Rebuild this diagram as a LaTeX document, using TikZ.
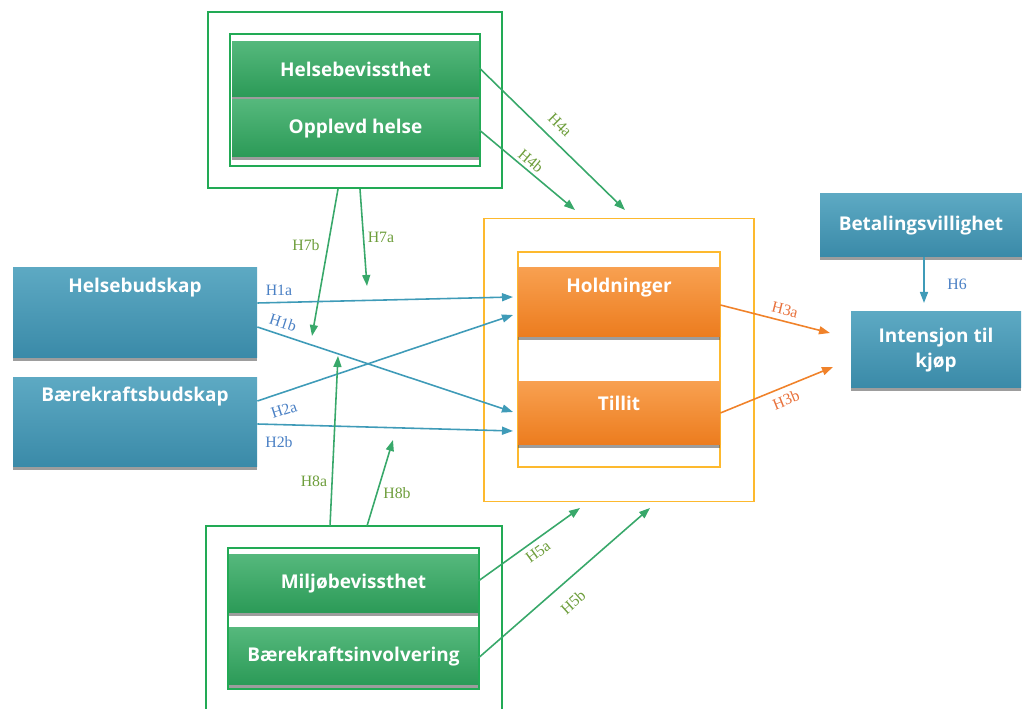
\documentclass[tikz,border=0pt]{standalone}
\usepackage{fontspec}
\setmainfont{Liberation Serif}
\newfontfamily\boxfont{Open Sans}
\usetikzlibrary{arrows.meta,shadows}
\definecolor{gline}{HTML}{22AA55}
\definecolor{gtop}{HTML}{55B87C}
\definecolor{gbot}{HTML}{2B9A57}
\definecolor{btop}{HTML}{5DA9C3}
\definecolor{bbot}{HTML}{3A8AA8}
\definecolor{otop}{HTML}{F8A050}
\definecolor{obot}{HTML}{EC7C1E}
\definecolor{oline}{HTML}{FDB92E}
\definecolor{barrow}{HTML}{3F9BB8}
\definecolor{garrow}{HTML}{38A86A}
\definecolor{oarrow}{HTML}{F0822A}
\definecolor{glab}{HTML}{6E9E3C}
\definecolor{blab}{HTML}{4A80C4}
\definecolor{olab}{HTML}{E8703A}
\newdimen\pxu \pxu=0.02cm
\tikzset{
  sbox/.style={draw=none, inner sep=0pt, drop shadow={shadow xshift=0pt, shadow yshift=-0.07cm, opacity=0.55, fill=black!70}},
  gbox/.style={sbox, top color=gtop, bottom color=gbot},
  bbox/.style={sbox, top color=btop, bottom color=bbot},
  obox/.style={sbox, top color=otop, bottom color=obot},
  btext/.style={text=white, font=\boxfont\bfseries\fontsize{10.8}{14}\selectfont, align=center, inner sep=0pt},
  gframe/.style={draw=gline, line width=1.2pt},
  oframe/.style={draw=oline, line width=1.1pt},
  arr/.style={line width=0.9pt, -{Triangle[length=0.22cm,width=0.16cm]}},
  glabel/.style={text=glab, font=\fontsize{9}{10}\selectfont, inner sep=0pt},
  blabel/.style={text=blab, font=\fontsize{9}{10}\selectfont, inner sep=0pt},
  olabel/.style={text=olab, font=\fontsize{9}{10}\selectfont, inner sep=0pt},
}
\begin{document}
\begin{tikzpicture}[x=0.02cm,y=-0.02cm]
\useasboundingbox (0,0) rectangle (1022,709);
% frames
\node[gframe, minimum width=294\pxu, minimum height=176\pxu, inner sep=0pt] (topouter) at (355,100) {};
\node[gframe, minimum width=250\pxu, minimum height=132\pxu, inner sep=0pt] (topinner) at (355,100) {};
\node[oframe, minimum width=270\pxu, minimum height=283\pxu, inner sep=0pt] (oouter) at (619,360) {};
\node[oframe, minimum width=202\pxu, minimum height=215\pxu, inner sep=0pt] (oinner) at (619,359.5) {};
\draw[gline, line width=1.2pt] (206,712) -- (206,526) coordinate (botouternw) -- (502,526) coordinate (botouterne) -- (502,712);
\node[gframe, minimum width=251\pxu, minimum height=141\pxu, inner sep=0pt] (botinner) at (353.5,618.5) {};
% green boxes
\node[gbox, minimum width=247\pxu, minimum height=55\pxu] (hbev) at (355.5,69.5) {};
\node[btext] (hbevt) at (hbev) {Helsebevissthet};
\node[gbox, minimum width=247\pxu, minimum height=57\pxu] (oh) at (355.5,128.5) {};
\node[btext] (oht) at (oh) {Opplevd helse};
\node[gbox, minimum width=249\pxu, minimum height=58\pxu] (mil) at (353.5,584) {};
\node[btext] (milt) at (mil) {Miljøbevissthet};
\node[gbox, minimum width=249\pxu, minimum height=57\pxu] (bin) at (353.5,656.5) {};
\node[btext] (bint) at (bin) {Bærekraftsinvolvering};
% blue boxes
\node[bbox, minimum width=244\pxu, minimum height=90\pxu] (hbud) at (135,313) {};
\node[btext] (hbudt) at (135,288) {Helsebudskap};
\node[bbox, minimum width=244\pxu, minimum height=89\pxu] (bbud) at (135,422.5) {};
\node[btext] (bbudt) at (135,397) {Bærekraftsbudskap};
\node[bbox, minimum width=202\pxu, minimum height=63\pxu] (bet) at (921,225.5) {};
\node[btext] (bett) at (bet) {Betalingsvillighet};
\node[bbox, minimum width=170\pxu, minimum height=76\pxu] (int) at (936,350) {};
\node[btext] (intt) at (int) {Intensjon til\\kjøp};
% orange boxes
\node[obox, minimum width=202\pxu, minimum height=69\pxu] (hold) at (619,302.5) {};
\node[btext] (holdt) at (619,288) {Holdninger};
\node[obox, minimum width=202\pxu, minimum height=63\pxu] (till) at (619,413.5) {};
\node[btext] (tillt) at (619,403) {Tillit};
% arrow end points
\coordinate (e4a) at (625,210);
\coordinate (e4b) at (575,210);
\coordinate (e7b) at (312,336);
\coordinate (e7a) at (367,286);
\coordinate (e1a) at (513,297);
\coordinate (e1b) at (513,412);
\coordinate (e2a) at (513,315);
\coordinate (e2b) at (513,431);
\coordinate (e8a) at (338,356);
\coordinate (e8b) at (393,440);
\coordinate (e5a) at (580,508);
\coordinate (e5b) at (650,508);
\coordinate (e3a) at (830,333);
\coordinate (e3b) at (833,367);
\coordinate (e6) at (924,303);
% arrows
\draw[arr, garrow] (hbev.east |- 0,68) -- (e4a);
\draw[arr, garrow] (oh.east |- 0,130) -- (e4b);
\draw[arr, garrow] (topouter.south -| 338,0) -- (e7b);
\draw[arr, garrow] (topouter.south -| 360,0) -- (e7a);
\draw[arr, barrow] (hbud.east |- 0,303) -- (e1a);
\draw[arr, barrow] (hbud.east |- 0,327) -- (e1b);
\draw[arr, barrow] (bbud.east |- 0,401) -- (e2a);
\draw[arr, barrow] (bbud.east |- 0,424) -- (e2b);
\draw[arr, garrow] (botouternw -| 330,0) -- (e8a);
\draw[arr, garrow] (botouternw -| 367,0) -- (e8b);
\draw[arr, garrow] (mil.east |- 0,581) -- (e5a);
\draw[arr, garrow] (bin.east |- 0,658) -- (e5b);
\draw[arr, oarrow] (hold.east |- 0,305) -- (e3a);
\draw[arr, oarrow] (till.east |- 0,413) -- (e3b);
\draw[arr, barrow] (bet.south -| 924,0) -- (e6);
% labels
\node[glabel, rotate=-45] (l4a) at (560,125) {H4a};
\node[glabel, rotate=-40] (l4b) at (531,161) {H4b};
\node[glabel] (l7b) at (306,245) {H7b};
\node[glabel] (l7a) at (381,237) {H7a};
\node[blabel] (l1a) at (279,290) {H1a};
\node[blabel, rotate=-18] (l1b) at (283,323) {H1b};
\node[blabel, rotate=18] (l2a) at (284,410) {H2a};
\node[blabel] (l2b) at (279,442) {H2b};
\node[glabel] (l8a) at (314,481) {H8a};
\node[glabel] (l8b) at (397,493) {H8b};
\node[glabel, rotate=36] (l5a) at (538,552) {H5a};
\node[glabel, rotate=42] (l5b) at (573,602) {H5b};
\node[olabel, rotate=-14] (l3a) at (785,310) {H3a};
\node[olabel, rotate=22] (l3b) at (786,400) {H3b};
\node[blabel] (l6) at (957,284) {H6};
\end{tikzpicture}
\end{document}
